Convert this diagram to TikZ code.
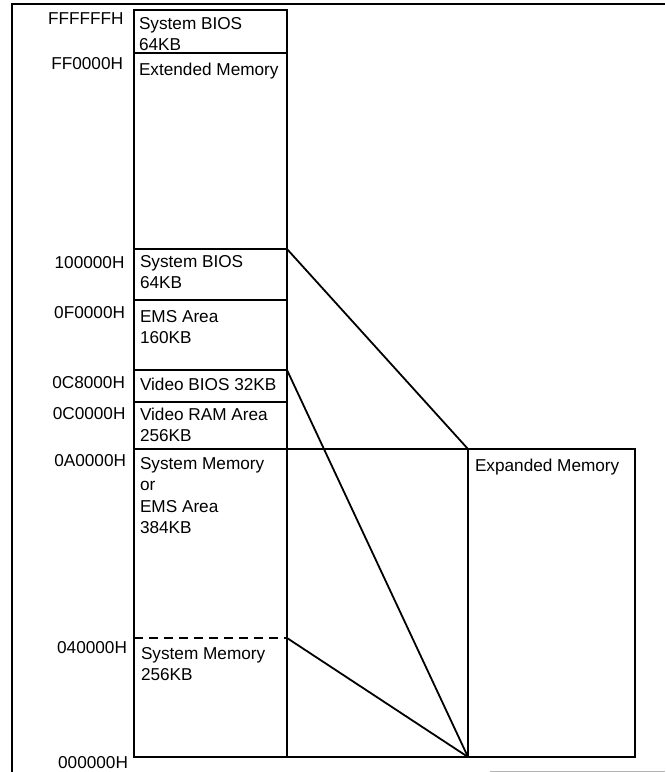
\documentclass[tikz,border=0pt]{standalone}
\usepackage{fontspec}
\setmainfont{Liberation Sans}
\begin{document}
\begin{tikzpicture}[x=1pt,y=-1pt,
  mem/.style={draw, rectangle, line width=1.8pt, inner sep=0pt, outer sep=0pt, minimum width=153pt, anchor=north west},
  lbl/.style={inner sep=0pt, outer sep=0pt, anchor=north west, align=left, font=\fontsize{17.2}{21.5}\selectfont},
  addr/.style={inner sep=0pt, outer sep=0pt, anchor=north east, font=\fontsize{17.2}{21.5}\selectfont},
  conn/.style={line width=1.8pt},
  frame/.style={line width=1.8pt},
  dashsep/.style={line width=1.8pt, dash pattern=on 9pt off 6pt}]
\useasboundingbox (0,0) rectangle (665,772);
% outer frame
\draw[frame] (12,772) -- (12,4) -- (665,4);
\draw[gray!60, line width=1pt] (490,771) -- (665,771);
% memory column
\node[mem, minimum height=43pt]  (b1) at (134,10) {};
\node[mem, minimum height=196pt] (b2) at (134,53) {};
\node[mem, minimum height=51pt]  (b3) at (134,249) {};
\node[mem, minimum height=70pt]  (b4) at (134,300) {};
\node[mem, minimum height=32pt]  (b5) at (134,370) {};
\node[mem, minimum height=47pt]  (b6) at (134,402) {};
\node[mem, minimum height=308pt] (b7) at (134,449) {};
\node[mem, minimum width=167pt, minimum height=308pt] (exp) at (468,449) {};
\coordinate (dl) at (134,638);
\coordinate (dr) at (287,638);
\draw[dashsep] (dl) -- (dr);
% connectors
\draw[conn] (b2.south east) -- (exp.north west);
\draw[conn] (b6.south east) -- (exp.north west);
\draw[conn] (b7.south east) -- (exp.south west);
\draw[conn] (b5.north east) -- (exp.south west);
\draw[conn] (dr) -- (exp.south west);
% box texts
\node[lbl] (t1) at (139,17) {System BIOS\\64KB};
\node[lbl] (t2) at (139,63) {Extended Memory};
\node[lbl] (t3) at (140,255) {System BIOS\\64KB};
\node[lbl] (t4) at (140,310) {EMS Area\\160KB};
\node[lbl] (t5) at (140,378) {Video BIOS 32KB};
\node[lbl] (t6) at (140,408) {Video RAM Area\\256KB};
\node[lbl] (t7) at (140,457) {System Memory\\or\\EMS Area\\384KB};
\node[lbl] (t8) at (141,647) {System Memory\\256KB};
\node[lbl] (t9) at (475,459) {Expanded Memory};
% address labels
\node[addr] (a1) at (123.5,13)  {FFFFFFH};
\node[addr] (a2) at (123,57)    {FF0000H};
\node[addr] (a3) at (124.5,256) {100000H};
\node[addr] (a4) at (125,306)   {0F0000H};
\node[addr] (a5) at (125,376)   {0C8000H};
\node[addr] (a6) at (125.5,407) {0C0000H};
\node[addr] (a7) at (126,454)   {0A0000H};
\node[addr] (a8) at (127,641)   {040000H};
\node[addr] (a9) at (128,756)   {000000H};
\end{tikzpicture}
\end{document}
